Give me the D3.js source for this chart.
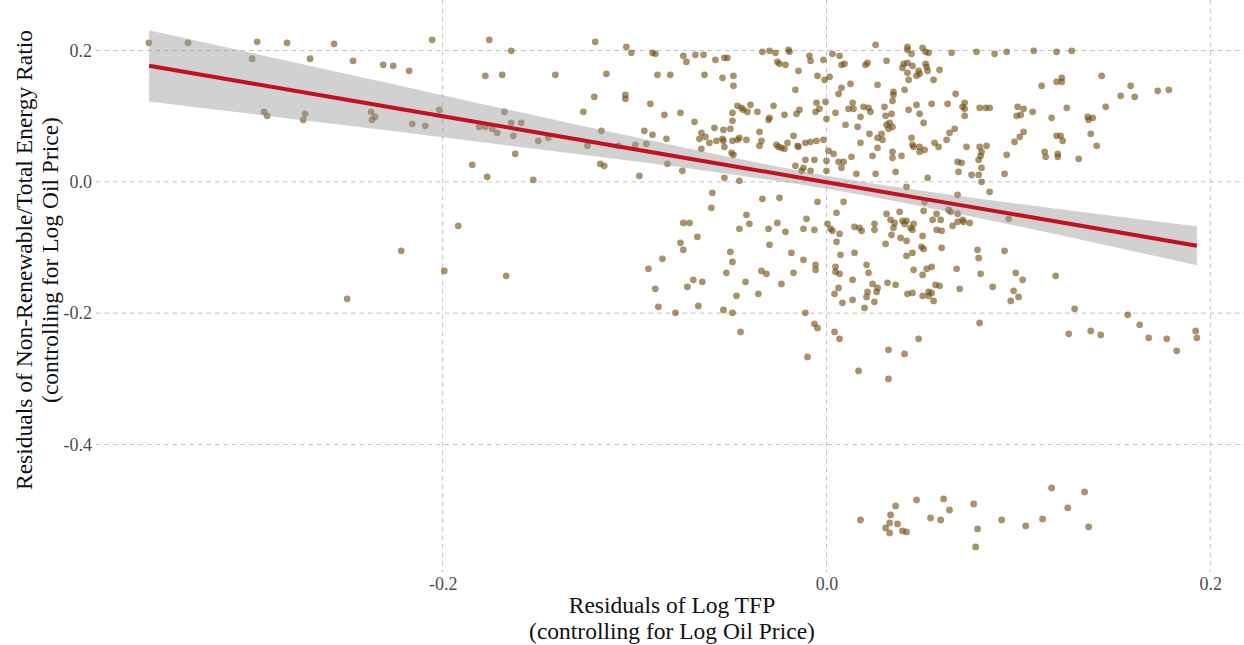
<!DOCTYPE html>
<html><head><meta charset="utf-8">
<script src="https://cdn.jsdelivr.net/npm/d3@7"></script>
<style>html,body{margin:0;padding:0;background:#fff;} svg{display:block;}</style>
</head><body>
<svg id="chart" width="1244" height="645"></svg>
<script>
// ---------- data ----------
const xTicks = [-0.2, 0.0, 0.2];
const yTicks = [0.2, 0.0, -0.2, -0.4];
const xTitle = ["Residuals of Log TFP", "(controlling for Log Oil Price)"];
const yTitle = ["Residuals of Non-Renewable/Total Energy Ratio", "(controlling for Log Oil Price)"];

// residuals of log TFP (x) and of the non-renewable ratio (y), same order
const tfpResid = [
 -0.3531,-0.3327,-0.2967,-0.2811,-0.2566,-0.2055,-0.2993,-0.2691,-0.2467,-0.2310,-0.2258,-0.2175,-0.2931,-0.2915,-0.2717,-0.2727,-0.2373,-0.2352,-0.2368,-0.2159,-0.2091,-0.2018,-0.2216,-0.1992,-0.2498,
 -0.1757,-0.1643,-0.1778,-0.1690,-0.1413,-0.1205,-0.1043,-0.1017,-0.0907,-0.0892,-0.0746,-0.0730,-0.1147,-0.0881,-0.0814,-0.1210,-0.1048,-0.1048,-0.0918,-0.1267,-0.0845,-0.0761,-0.1679,-0.1643,-0.1591,-0.1810,-0.1778,-0.1742,-0.1716,-0.1632,-0.1502,-0.1450,-0.1173,-0.1246,-0.1085,-0.0996,-0.0939,-0.0949,-0.0907,-0.0834,-0.1622,-0.1846,-0.1768,-0.1528,-0.1179,-0.1158,-0.0975,-0.0829,-0.0751,
 -0.1919,-0.1669,-0.0746,-0.0714,-0.0761,-0.0746,-0.0855,-0.0928,-0.0892,-0.0725,-0.0876,-0.0787,
 -0.0683,-0.0641,-0.0579,-0.0532,-0.0516,-0.0334,-0.0297,-0.0266,-0.0198,-0.0193,-0.0256,-0.0245,-0.0214,-0.0089,-0.0083,-0.0016,0.0031,0.0068,0.0078,0.0094,0.0203,0.0214,0.0256,
 -0.0636,-0.0542,-0.0485,-0.0485,-0.0146,-0.0162,-0.0047,-0.0010,0.0016,0.0078,0.0125,0.0063,0.0266,
 -0.0464,-0.0443,-0.0433,-0.0412,-0.0396,-0.0360,-0.0276,-0.0219,-0.0156,-0.0141,-0.0052,-0.0005,-0.0057,-0.0037,0.0000,0.0047,0.0115,0.0141,0.0136,0.0193,0.0219,0.0229,0.0177,
 -0.0688,-0.0490,-0.0490,-0.0302,-0.0297,-0.0584,-0.0537,-0.0501,-0.0349,-0.0652,-0.0662,-0.0631,-0.0610,-0.0574,-0.0542,-0.0537,-0.0490,-0.0464,-0.0454,-0.0417,-0.0339,-0.0349,-0.0532,-0.0652,-0.0261,-0.0250,-0.0235,-0.0219,-0.0203,-0.0172,-0.0151,-0.0146,-0.0110,-0.0083,-0.0052,-0.0016,0.0099,0.0162,0.0224,0.0266,0.0177,0.0010,0.0037,-0.0495,-0.0485,-0.0110,-0.0063,0.0000,0.0063,0.0089,0.0078,0.0130,0.0240,-0.0162,-0.0120,-0.0130,-0.0083,0.0000,0.0156,0.0256,-0.0532,-0.0454,
 -0.0595,-0.0600,-0.0334,-0.0245,-0.0047,0.0089,0.0052,-0.0417,-0.0402,-0.0454,-0.0302,-0.0256,-0.0214,-0.0104,-0.0120,-0.0063,0.0005,0.0021,0.0031,0.0068,0.0052,0.0146,0.0172,0.0183,0.0250,0.0250,
 -0.0673,-0.0297,-0.0183,-0.0501,-0.0490,-0.0120,-0.0057,-0.0057,0.0073,0.0146,0.0047,0.0047,0.0068,0.0209,0.0219,-0.0522,-0.0339,-0.0313,-0.0172,-0.0694,-0.0647,-0.0422,-0.0235,0.0136,0.0240,0.0266,0.0063,0.0042,0.0214,0.0209,0.0083,0.0136,0.0250,0.0198,-0.0469,-0.0355,-0.0668,-0.0537,-0.0490,-0.0110,-0.0063,-0.0047,0.0042,0.0068,-0.0448,
 0.0422,0.0422,0.0443,0.0501,0.0516,0.0532,0.0652,0.0782,0.0876,0.0939,0.1080,0.1199,0.0313,0.0402,0.0422,0.0448,0.0396,0.0422,0.0480,0.0485,0.0469,0.0516,0.0522,0.0527,0.0589,0.0428,0.0558,0.0407,0.0349,0.0349,0.0344,0.0673,0.1121,0.1199,
 0.0302,0.0428,0.0469,0.0548,0.0631,0.0720,0.0709,0.0720,0.0485,0.0339,0.0308,0.0798,0.0829,0.0850,0.0996,0.1027,0.1074,0.0991,0.1012,0.0720,0.1173,0.0506,0.0313,0.0329,0.0344,0.0323,0.0668,0.0641,0.0626,0.0287,0.0292,0.0443,0.0563,0.0448,0.0454,0.0485,0.0511,0.0485,0.0584,0.0730,0.0798,0.0834,0.0808,0.0803,0.0793,0.0683,0.0704,0.0808,0.0939,0.0980,0.1007,0.1027,0.1137,0.1142,0.1205,0.1205,0.1199,0.0266,0.0344,0.0344,0.0391,0.0360,0.0688,0.0756,0.0793,0.0928,0.0527,
 0.0808,0.0417,0.0683,0.0850,0.0511,0.0506,0.0636,0.0647,0.0683,0.0574,0.0553,0.0595,0.0709,0.0683,0.0714,0.0746,0.0657,0.0574,0.0600,0.0949,0.0313,0.0381,0.0334,0.0355,0.0396,0.0407,0.0417,0.0454,0.0438,0.0448,0.0349,0.0339,0.0386,0.0417,0.0501,0.0308,0.0495,0.0506,0.0600,0.0448,0.0417,0.0787,0.0928,0.0793,0.0548,0.0522,0.0454,0.0501,0.0678,0.0803,0.0986,0.1022,0.1194,0.0318,0.0360,0.0261,0.0568,0.0589,0.0422,0.0448,0.0501,0.0532,0.0548,0.0532,0.0558,0.0694,0.0866,0.0975,0.1001,0.0960,0.0798,0.0480,
 0.1278,0.1226,0.1226,0.1434,0.1585,0.1533,0.1606,0.1726,0.1784,0.1455,0.1252,0.1361,0.1366,0.1387,0.1377,0.1220,0.1231,0.1408,0.1314,0.1293,0.1570,0.1632,0.1924,0.1377,
 0.0177,0.0308,0.0329,0.0329,0.0334,0.0360,0.0370,0.0396,0.0417,0.0469,0.0542,0.0595,0.0610,0.0641,0.0767,0.0787,0.0777,0.0913,0.1038,0.1126,0.1173,0.1257,0.1345,0.1366,
 0.1262,0.1429,0.1679,0.1773,0.1825,0.1930,-0.0099,0.0167,0.0323,0.0323,0.0407
];
const ratioResid = [
 0.2117,0.2117,0.2132,0.2117,0.2102,0.2163,0.1874,0.1874,0.1843,0.1782,0.1767,0.1691,0.1066,0.1005,0.1036,0.0944,0.1066,0.0990,0.0944,0.0883,0.0853,0.1097,-0.1051,-0.1356,-0.1782,
 0.2163,0.1995,0.1615,0.1630,0.1630,0.2132,0.2056,0.1965,0.1965,0.1950,0.1919,0.1828,0.1645,0.1630,0.1630,0.1295,0.1325,0.1264,0.1188,0.1066,0.1021,0.1051,0.1066,0.0899,0.0899,0.0838,0.0838,0.0807,0.0746,0.0701,0.0625,0.0670,0.0777,0.0548,0.0548,0.0564,0.0579,0.0777,0.0716,0.0655,0.0427,0.0259,0.0076,0.0030,0.0274,0.0244,0.0091,0.0274,0.0168,
 -0.0670,-0.1432,-0.0625,-0.0625,-0.0929,-0.1036,-0.1173,-0.1325,-0.1630,-0.1599,-0.1904,-0.1995,
 0.1934,0.1934,0.1858,0.1889,0.1889,0.1980,0.1995,0.1965,0.2011,0.1980,0.1828,0.1797,0.1782,0.1919,0.1843,0.1858,0.1950,0.1919,0.1782,0.1797,0.1782,0.1813,0.2087,
 0.1630,0.1584,0.1615,0.1462,0.1691,0.1401,0.1615,0.1554,0.1599,0.1432,0.1493,0.1340,0.1478,
 0.1158,0.1127,0.1097,0.1066,0.1173,0.1066,0.1158,0.1021,0.1036,0.1097,0.1203,0.1219,0.1066,0.1112,0.0960,0.1051,0.1112,0.1112,0.1203,0.1142,0.1127,0.1066,0.0990,
 0.0914,0.1051,0.0929,0.0944,0.0975,0.0823,0.0792,0.0807,0.0762,0.0746,0.0655,0.0685,0.0594,0.0625,0.0655,0.0625,0.0625,0.0640,0.0670,0.0640,0.0625,0.0548,0.0533,0.0503,0.0564,0.0533,0.0518,0.0503,0.0594,0.0701,0.0548,0.0533,0.0594,0.0609,0.0625,0.0640,0.0868,0.0838,0.0731,0.0670,0.0594,0.0472,0.0427,0.0442,0.0411,0.0335,0.0335,0.0320,0.0305,0.0305,0.0213,0.0381,0.0396,0.0244,0.0213,0.0168,0.0168,0.0168,0.0122,0.0122,0.0061,0.0015,
 -0.0168,-0.0396,-0.0259,-0.0244,-0.0305,-0.0305,-0.0472,-0.0503,-0.0640,-0.0716,-0.0716,-0.0625,-0.0762,-0.0564,-0.0716,-0.0731,-0.0640,-0.0716,-0.0746,-0.0792,-0.0914,-0.0685,-0.0701,-0.0746,-0.0640,-0.0731,
 -0.0838,-0.0960,-0.1081,-0.1066,-0.1219,-0.1188,-0.1264,-0.1340,-0.1112,-0.1081,-0.1295,-0.1371,-0.1401,-0.1264,-0.1386,-0.1386,-0.1356,-0.1401,-0.1386,-0.1493,-0.1523,-0.1523,-0.1554,-0.1493,-0.1554,-0.1615,-0.1615,-0.1706,-0.1676,-0.1752,-0.1843,-0.1797,-0.1828,-0.1919,-0.1736,-0.1706,-0.1889,-0.1950,-0.1995,-0.1995,-0.2163,-0.2224,-0.2285,-0.2391,-0.2285,
 0.2056,0.2011,0.1950,0.2041,0.1980,0.1965,0.1965,0.1980,0.1950,0.1980,0.1995,0.1980,0.1843,0.1797,0.1813,0.1767,0.1736,0.1660,0.1691,0.1645,0.1615,0.1797,0.1752,0.1691,0.1706,0.1554,0.1554,0.1401,0.1371,0.1325,0.1234,0.1340,0.1462,0.1523,
 0.1142,0.1097,0.1173,0.1188,0.1188,0.1203,0.1142,0.1112,0.1036,0.1036,0.1005,0.1127,0.1127,0.1127,0.1142,0.1112,0.1066,0.1005,0.1021,0.1005,0.0975,0.0899,0.0868,0.0899,0.0838,0.0807,0.0807,0.0746,0.0640,0.0731,0.0640,0.0670,0.0594,0.0564,0.0533,0.0533,0.0487,0.0457,0.0533,0.0533,0.0533,0.0548,0.0457,0.0396,0.0335,0.0305,0.0289,0.0213,0.0411,0.0609,0.0685,0.0762,0.0457,0.0381,0.0427,0.0381,0.0701,0.0518,0.0457,0.0366,0.0396,0.0152,0.0152,0.0107,0.0107,0.0122,0.0061,
 0.0000,-0.0076,-0.0198,-0.0152,-0.0305,-0.0442,-0.0427,-0.0457,-0.0487,-0.0487,-0.0579,-0.0579,-0.0579,-0.0609,-0.0609,-0.0625,-0.0670,-0.0731,-0.0746,-0.0564,-0.0487,-0.0457,-0.0579,-0.0625,-0.0594,-0.0640,-0.0594,-0.0640,-0.0701,-0.0731,-0.0701,-0.0807,-0.0853,-0.0899,-0.0823,-0.0944,-0.0990,-0.1021,-0.1005,-0.1081,-0.1127,-0.1036,-0.1051,-0.1158,-0.1295,-0.1325,-0.1340,-0.1417,-0.1325,-0.1401,-0.1386,-0.1493,-0.1432,-0.1538,-0.1569,-0.1676,-0.1569,-0.1584,-0.1706,-0.1691,-0.1736,-0.1676,-0.1691,-0.1736,-0.1813,-0.1630,-0.1599,-0.1660,-0.1752,-0.1813,-0.2148,-0.2391,
 0.1995,0.1584,0.1523,0.1615,0.1462,0.1310,0.1295,0.1386,0.1401,0.1142,0.1127,0.0990,0.0944,0.0975,0.0731,0.0701,0.0625,0.0548,0.0350,-0.1934,-0.2026,-0.2178,-0.2270,-0.2270,
 -0.5149,-0.5270,-0.5347,-0.5194,-0.5072,-0.4935,-0.5209,-0.5316,-0.5331,-0.4844,-0.5118,-0.5149,-0.4829,-0.4996,-0.4905,-0.5286,-0.5560,-0.5149,-0.5240,-0.5133,-0.4661,-0.4966,-0.4722,-0.5255,
 -0.2315,-0.2331,-0.2376,-0.2391,-0.2574,-0.2376,-0.2666,-0.2879,-0.3001,-0.2559,-0.2620
];

// linear fit and its confidence band
const fitX  = [-0.353, -0.30, -0.25, -0.20, -0.15, -0.10, -0.05, 0.00, 0.05, 0.10, 0.15, 0.193];
const fitY  = [0.1767, 0.1501, 0.1250, 0.0999, 0.0748, 0.0497, 0.0246, -0.0005, -0.0256, -0.0506, -0.0757, -0.0973];
const fitLo = [0.1225, 0.1036, 0.0857, 0.0678, 0.0496, 0.0312, 0.0117, -0.0104, -0.0375, -0.0678, -0.0994, -0.1269];
const fitHi = [0.2309, 0.1966, 0.1643, 0.1320, 0.1000, 0.0682, 0.0375, 0.0094, -0.0137, -0.0334, -0.0520, -0.0677];

// ---------- drawing ----------
const W = 1244, H = 645;
const panel = {left: 96, right: 1250, top: 0, bottom: 572};
const x = d3.scaleLinear().domain([-0.2, 0.2]).range([442.7, 1210.3]);
const y = d3.scaleLinear().domain([-0.4, 0.2]).range([444.5, 50.5]);
const fmt = d => d.toFixed(1);
const FONT = "'Liberation Serif', 'DejaVu Serif', serif";

const svg = d3.select("#chart");
svg.append("rect").attr("width", W).attr("height", H).attr("fill", "#fff");

// grid
const grid = svg.append("g").attr("stroke", "#c2c2c2").attr("stroke-width", 1)
  .attr("stroke-dasharray", "4.5,4").attr("fill", "none");
grid.selectAll("line.gv").data(xTicks).join("line").attr("class", "gv")
  .attr("x1", d => x(d)).attr("x2", d => x(d)).attr("y1", panel.top).attr("y2", panel.bottom);
grid.selectAll("line.gh").data(yTicks).join("line").attr("class", "gh")
  .attr("x1", panel.left).attr("x2", panel.right).attr("y1", d => y(d)).attr("y2", d => y(d));

// points
const pts = d3.range(tfpResid.length).map(i => [tfpResid[i], ratioResid[i]]);
svg.append("g").selectAll("circle").data(pts).join("circle")
  .attr("cx", d => x(d[0])).attr("cy", d => y(d[1])).attr("r", 3.4)
  .attr("fill", "#6e4b0c").attr("fill-opacity", 0.6);

// confidence band
const band = fitX.map((v, i) => ({x: v, lo: fitLo[i], hi: fitHi[i], f: fitY[i]}));
svg.append("path").datum(band)
  .attr("d", d3.area().x(d => x(d.x)).y0(d => y(d.lo)).y1(d => y(d.hi)).curve(d3.curveMonotoneX))
  .attr("fill", "#999999").attr("fill-opacity", 0.45);
svg.append("path").datum(band)
  .attr("d", d3.line().x(d => x(d.x)).y(d => y(d.f)))
  .attr("fill", "none").attr("stroke", "#c3111f").attr("stroke-width", 4);

// axes
const xAxis = svg.append("g").attr("transform", `translate(0,${panel.bottom})`)
  .call(d3.axisBottom(x).tickValues(xTicks).tickFormat(fmt).tickSize(0).tickPadding(5));
const yAxis = svg.append("g").attr("transform", `translate(${panel.left},0)`)
  .call(d3.axisLeft(y).tickValues(yTicks).tickFormat(fmt).tickSize(0).tickPadding(4));
[xAxis, yAxis].forEach(a => {
  a.select(".domain").remove();
  a.selectAll("text").attr("font-family", FONT).attr("font-size", 18).attr("fill", "#4d4d4d");
});

// titles
const xt = svg.append("g").attr("font-family", FONT).attr("font-size", 23.5).attr("fill", "#111")
  .attr("text-anchor", "middle");
xt.selectAll("text").data(xTitle).join("text")
  .attr("x", 672).attr("y", (d, i) => 613 + i * 25.5).text(d => d);
const yt = svg.append("g").attr("font-family", FONT).attr("font-size", 23.5).attr("fill", "#111")
  .attr("text-anchor", "middle").attr("transform", "translate(32,260) rotate(-90)");
yt.selectAll("text").data(yTitle).join("text")
  .attr("x", 0).attr("y", (d, i) => i * 25.5).text(d => d);
</script>
</body></html>
